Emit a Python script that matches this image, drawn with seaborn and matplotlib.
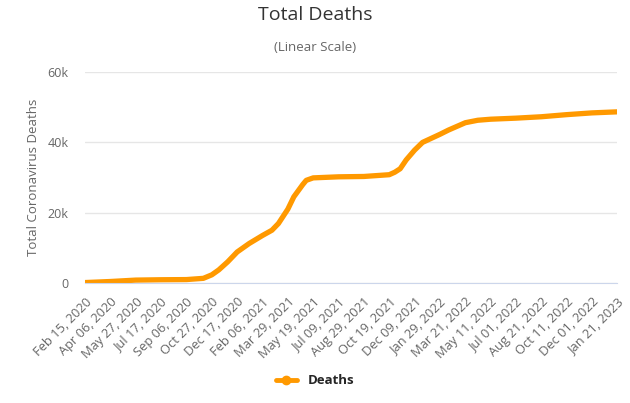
import pandas as pd
import matplotlib
matplotlib.use('Agg')
import matplotlib.pyplot as plt
from matplotlib.lines import Line2D
import seaborn as sb

# DATA
#======================================
dates = ['2020-02-15', '2020-04-06', '2020-05-27', '2020-07-17', '2020-09-06',
         '2020-10-10', '2020-10-27', '2020-11-10', '2020-11-28', '2020-12-17',
         '2021-01-10', '2021-02-06', '2021-02-25', '2021-03-10', '2021-03-29',
         '2021-04-10', '2021-04-28', '2021-05-05', '2021-05-19', '2021-07-09',
         '2021-08-29', '2021-10-19', '2021-10-30', '2021-11-10', '2021-11-22',
         '2021-12-09', '2021-12-25', '2022-01-29', '2022-02-15', '2022-03-21',
         '2022-04-15', '2022-05-11', '2022-07-01', '2022-08-21', '2022-10-11',
         '2022-12-01', '2023-01-21']
deaths = [100, 400, 800, 900, 950,
          1300, 2300, 3700, 6000, 8800,
          11200, 13500, 15000, 16900, 21000,
          24500, 28000, 29200, 29900, 30200,
          30300, 30800, 31500, 32500, 35000,
          37800, 40000, 42300, 43500, 45600,
          46300, 46600, 46900, 47300, 47900,
          48400, 48700]

tick_start = '2020-02-15'
tick_step_days = 51
n_ticks = 22

df = pd.DataFrame({'Date': pd.to_datetime(dates), 'Deaths': deaths})

orange = '#FF9900'
grey_txt = '#666666'

sb.set_style('white')
plt.rcParams['font.family'] = ['Open Sans', 'DejaVu Sans']

fig = plt.figure(figsize=(6.3, 4.03), dpi=100)
ax = fig.add_axes([0.135, 0.298, 0.845, 0.523])

sb.lineplot(data=df, x='Date', y='Deaths', ax=ax, color=orange, lw=3.8,
            solid_capstyle='round', legend=False)

ticks = pd.date_range(tick_start, periods=n_ticks, freq='%dD' % tick_step_days)
ax.set_xticks(ticks)
ax.set_xticklabels([t.strftime('%b %d, %Y') for t in ticks], rotation=45,
                   ha='right', rotation_mode='anchor', fontsize=9.3, color=grey_txt)
ax.set_xlim(ticks[0], ticks[-1])
ax.set_ylim(0, 60000)
ax.set_yticks([0, 20000, 40000, 60000])
ax.set_yticklabels(['0', '20k', '40k', '60k'], fontsize=9, color=grey_txt)
ax.tick_params(axis='x', length=0, pad=9)
ax.tick_params(axis='y', length=0, pad=12)

ax.grid(axis='y', color='#e6e6e6', lw=1)
ax.grid(axis='x', visible=False)
for s in ['top', 'right', 'left']:
    ax.spines[s].set_visible(False)
ax.spines['bottom'].set_color('#ccd6eb')
ax.set_axisbelow(True)

ax.set_xlabel('')
ax.set_ylabel('Total Coronavirus Deaths', fontsize=9.5, color=grey_txt, labelpad=5)

fig.text(0.5, 0.962, 'Total Deaths', ha='center', va='center', fontsize=14,
         color='#333333')
fig.text(0.5, 0.883, '(Linear Scale)', ha='center', va='center', fontsize=9.5,
         color=grey_txt)

handle = Line2D([], [], color=orange, lw=3.5, marker='o', markersize=6)
fig.legend([handle], ['Deaths'], loc='center', bbox_to_anchor=(0.5, 0.055),
           frameon=False, handlelength=1.6,
           prop={'weight': 'bold', 'size': 9.5})

fig.savefig('out.png', dpi=100)
